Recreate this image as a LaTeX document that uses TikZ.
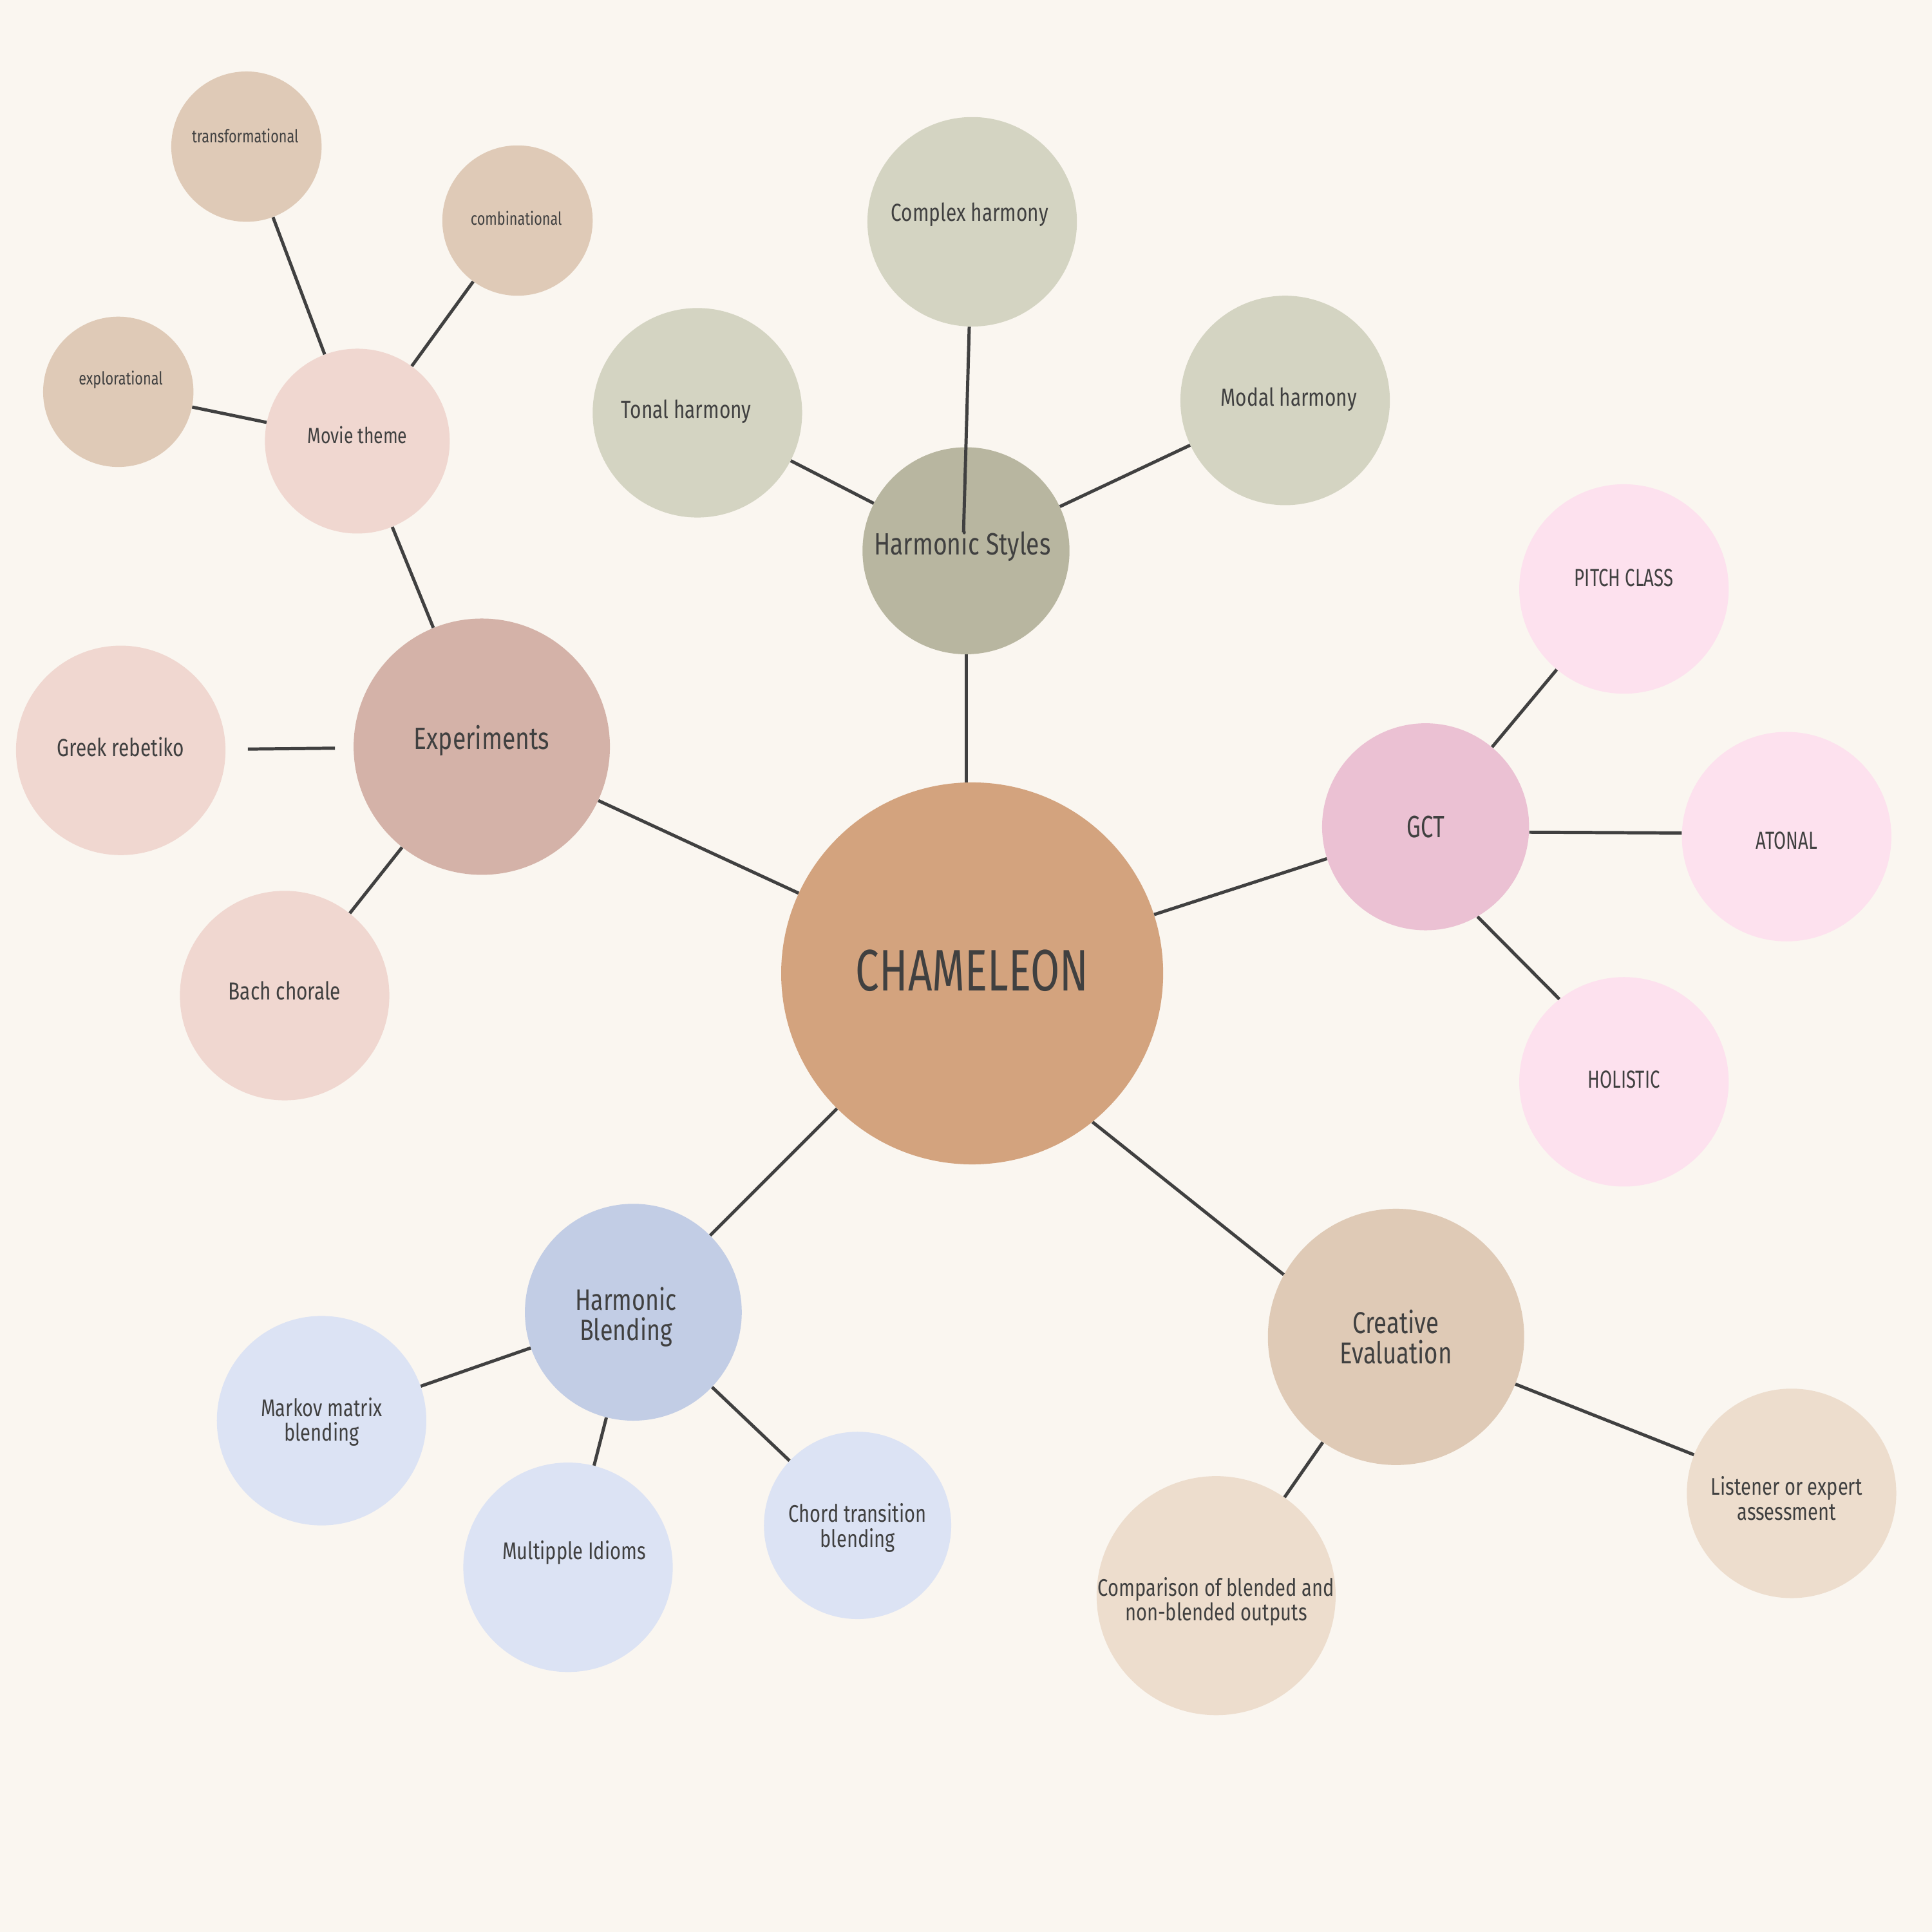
\documentclass[tikz,border=0pt]{standalone}
\usepackage{fontspec}
\setmainfont[FakeStretch=0.78]{Fira Sans}
\newfontfamily\titlefont[FakeStretch=0.72]{Fira Sans}
\definecolor{bg}{HTML}{FAF6F0}
\definecolor{ink}{HTML}{404040}
\definecolor{cmain}{HTML}{D3A37E}
\definecolor{chs}{HTML}{B8B6A0}
\definecolor{chsl}{HTML}{D4D4C2}
\definecolor{cgct}{HTML}{EBC1D3}
\definecolor{cgctl}{HTML}{FDE1EE}
\definecolor{cexp}{HTML}{D4B2A8}
\definecolor{cexpl}{HTML}{F0D7D0}
\definecolor{ctan}{HTML}{DFCAB7}
\definecolor{chb}{HTML}{C2CDE5}
\definecolor{chbl}{HTML}{DCE3F4}
\definecolor{cce}{HTML}{DFCAB6}
\definecolor{ccel}{HTML}{EDDDCD}
\tikzset{
  bubble/.style={circle,inner sep=0pt,draw=none},
  txt/.style={text=ink,align=center,inner sep=0pt},
  link/.style={draw=ink,line width=2.6pt},
}
\newcommand\fbig{\fontsize{25}{25}\selectfont}
\newcommand\fmid{\fontsize{20}{20}\selectfont}
\newcommand\fsml{\fontsize{19.5}{20}\selectfont}
\newcommand\ftiny{\fontsize{14.5}{16}\selectfont}
\begin{document}
\begin{tikzpicture}[x=1pt,y=-1pt]
\useasboundingbox (0,0) rectangle (1568,1568);
\fill[bg] (0,0) rectangle (1568,1568);
% main
\node[bubble,fill=cmain,minimum size=310pt,label={[txt,font=\titlefont\fontsize{47.5}{50}\selectfont,yshift=2pt]center:CHAMELEON}] (main) at (789,790) {};
% harmonic styles
\node[bubble,fill=chs,minimum size=168pt,label={[txt,font=\fbig,xshift=-3pt,yshift=4pt]center:Harmonic Styles}] (hs) at (784,447) {};
\node[bubble,fill=chsl,minimum size=170pt,label={[txt,font=\fmid,xshift=-2pt,yshift=6pt]center:Complex harmony}] (complex) at (789,180) {};
\node[bubble,fill=chsl,minimum size=170pt,label={[txt,font=\fmid,xshift=-9pt,yshift=1pt]center:Tonal harmony}] (tonal) at (566,335) {};
\node[bubble,fill=chsl,minimum size=170pt,label={[txt,font=\fmid,xshift=3pt,yshift=1pt]center:Modal harmony}] (modal) at (1043,325) {};
% GCT
\node[bubble,fill=cgct,minimum size=168pt,label={[txt,font=\titlefont\fontsize{25}{25}\selectfont]center:GCT}] (gct) at (1157,671) {};
\node[bubble,fill=cgctl,minimum size=170pt,label={[txt,font=\titlefont\fmid,yshift=9pt]center:PITCH CLASS}] (pitch) at (1318,478) {};
\node[bubble,fill=cgctl,minimum size=170pt,label={[txt,font=\titlefont\fmid,yshift=-3pt]center:ATONAL}] (atonal) at (1450,679) {};
\node[bubble,fill=cgctl,minimum size=170pt,label={[txt,font=\titlefont\fmid,yshift=2pt]center:HOLISTIC}] (holistic) at (1318,878) {};
% experiments
\node[bubble,fill=cexp,minimum size=208pt,label={[txt,font=\fbig,yshift=5pt]center:Experiments}] (exp) at (391,606) {};
\node[bubble,fill=cexpl,minimum size=150pt,label={[txt,font=\fontsize{17.8}{20}\selectfont,yshift=5pt]center:Movie theme}] (movie) at (290,358) {};
\node[bubble,fill=cexpl,minimum size=170pt,label={[txt,font=\fmid,yshift=3pt]center:Greek rebetiko}] (greek) at (98,609) {};
\node[bubble,fill=cexpl,minimum size=170pt,label={[txt,font=\fmid,yshift=4pt]center:Bach chorale}] (bach) at (231,808) {};
\node[bubble,fill=ctan,minimum size=122pt,label={[txt,font=\ftiny,xshift=-1pt,yshift=9pt]center:transformational}] (transf) at (200,119) {};
\node[bubble,fill=ctan,minimum size=122pt,label={[txt,font=\ftiny,xshift=-1pt,yshift=2pt]center:combinational}] (comb) at (420,179) {};
\node[bubble,fill=ctan,minimum size=122pt,label={[txt,font=\ftiny,xshift=2pt,yshift=10pt]center:explorational}] (explor) at (96,318) {};
% harmonic blending
\node[bubble,fill=chb,minimum size=176pt,label={[txt,font=\fontsize{24}{24.5}\selectfont,xshift=-6pt,yshift=-4pt]center:Harmonic\\Blending}] (hb) at (514,1065) {};
\node[bubble,fill=chbl,minimum size=170pt,label={[txt,font=\fsml,yshift=-1pt]center:Markov matrix\\blending}] (markov) at (261,1153) {};
\node[bubble,fill=chbl,minimum size=170pt,label={[txt,font=\fsml,xshift=5pt,yshift=12pt]center:Multipple Idioms}] (multi) at (461,1272) {};
\node[bubble,fill=chbl,minimum size=152pt,label={[txt,font=\fsml,yshift=-2pt]center:Chord transition\\blending}] (chord) at (696,1238) {};
% creative evaluation
\node[bubble,fill=cce,minimum size=208pt,label={[txt,font=\fontsize{24.5}{25}\selectfont]center:Creative\\Evaluation}] (ce) at (1133,1085) {};
\node[bubble,fill=ccel,minimum size=170pt,label={[txt,font=\fsml,xshift=-4pt,yshift=-4pt]center:Listener or expert\\assessment}] (listener) at (1454,1212) {};
\node[bubble,fill=ccel,minimum size=194pt,label={[txt,font=\fsml,yshift=-5pt]center:Comparison of blended and\\non-blended outputs}] (compar) at (987,1295) {};
% connectors
\draw[link] (hs.south) -- (hs.south |- main.north);
\draw[link] (main) -- (exp);
\draw[link] (main) -- (gct);
\draw[link] (main) -- (hb);
\draw[link] (main.-51) -- (ce.151.5);
\draw[link] (hs) -- (tonal);
\draw[link] (hs) -- (modal);
\coordinate (hsin) at (782,432);
\draw[link] (complex) -- (hsin);
\draw[link] (gct) -- (pitch);
\draw[link] (gct.-3.4) -- (atonal.178);
\draw[link] (gct.-60) -- (holistic.128);
\draw[link] (exp) -- (movie);
\draw[link,shorten <=18pt,shorten >=15pt] (greek) -- (exp);
\draw[link] (exp) -- (bach);
\draw[link] (movie) -- (transf);
\draw[link] (movie) -- (comb);
\draw[link] (movie) -- (explor);
\draw[link] (hb) -- (markov);
\draw[link] (hb) -- (multi);
\draw[link] (hb) -- (chord);
\draw[link] (ce) -- (listener);
\draw[link] (ce) -- (compar);
\end{tikzpicture}
\end{document}
